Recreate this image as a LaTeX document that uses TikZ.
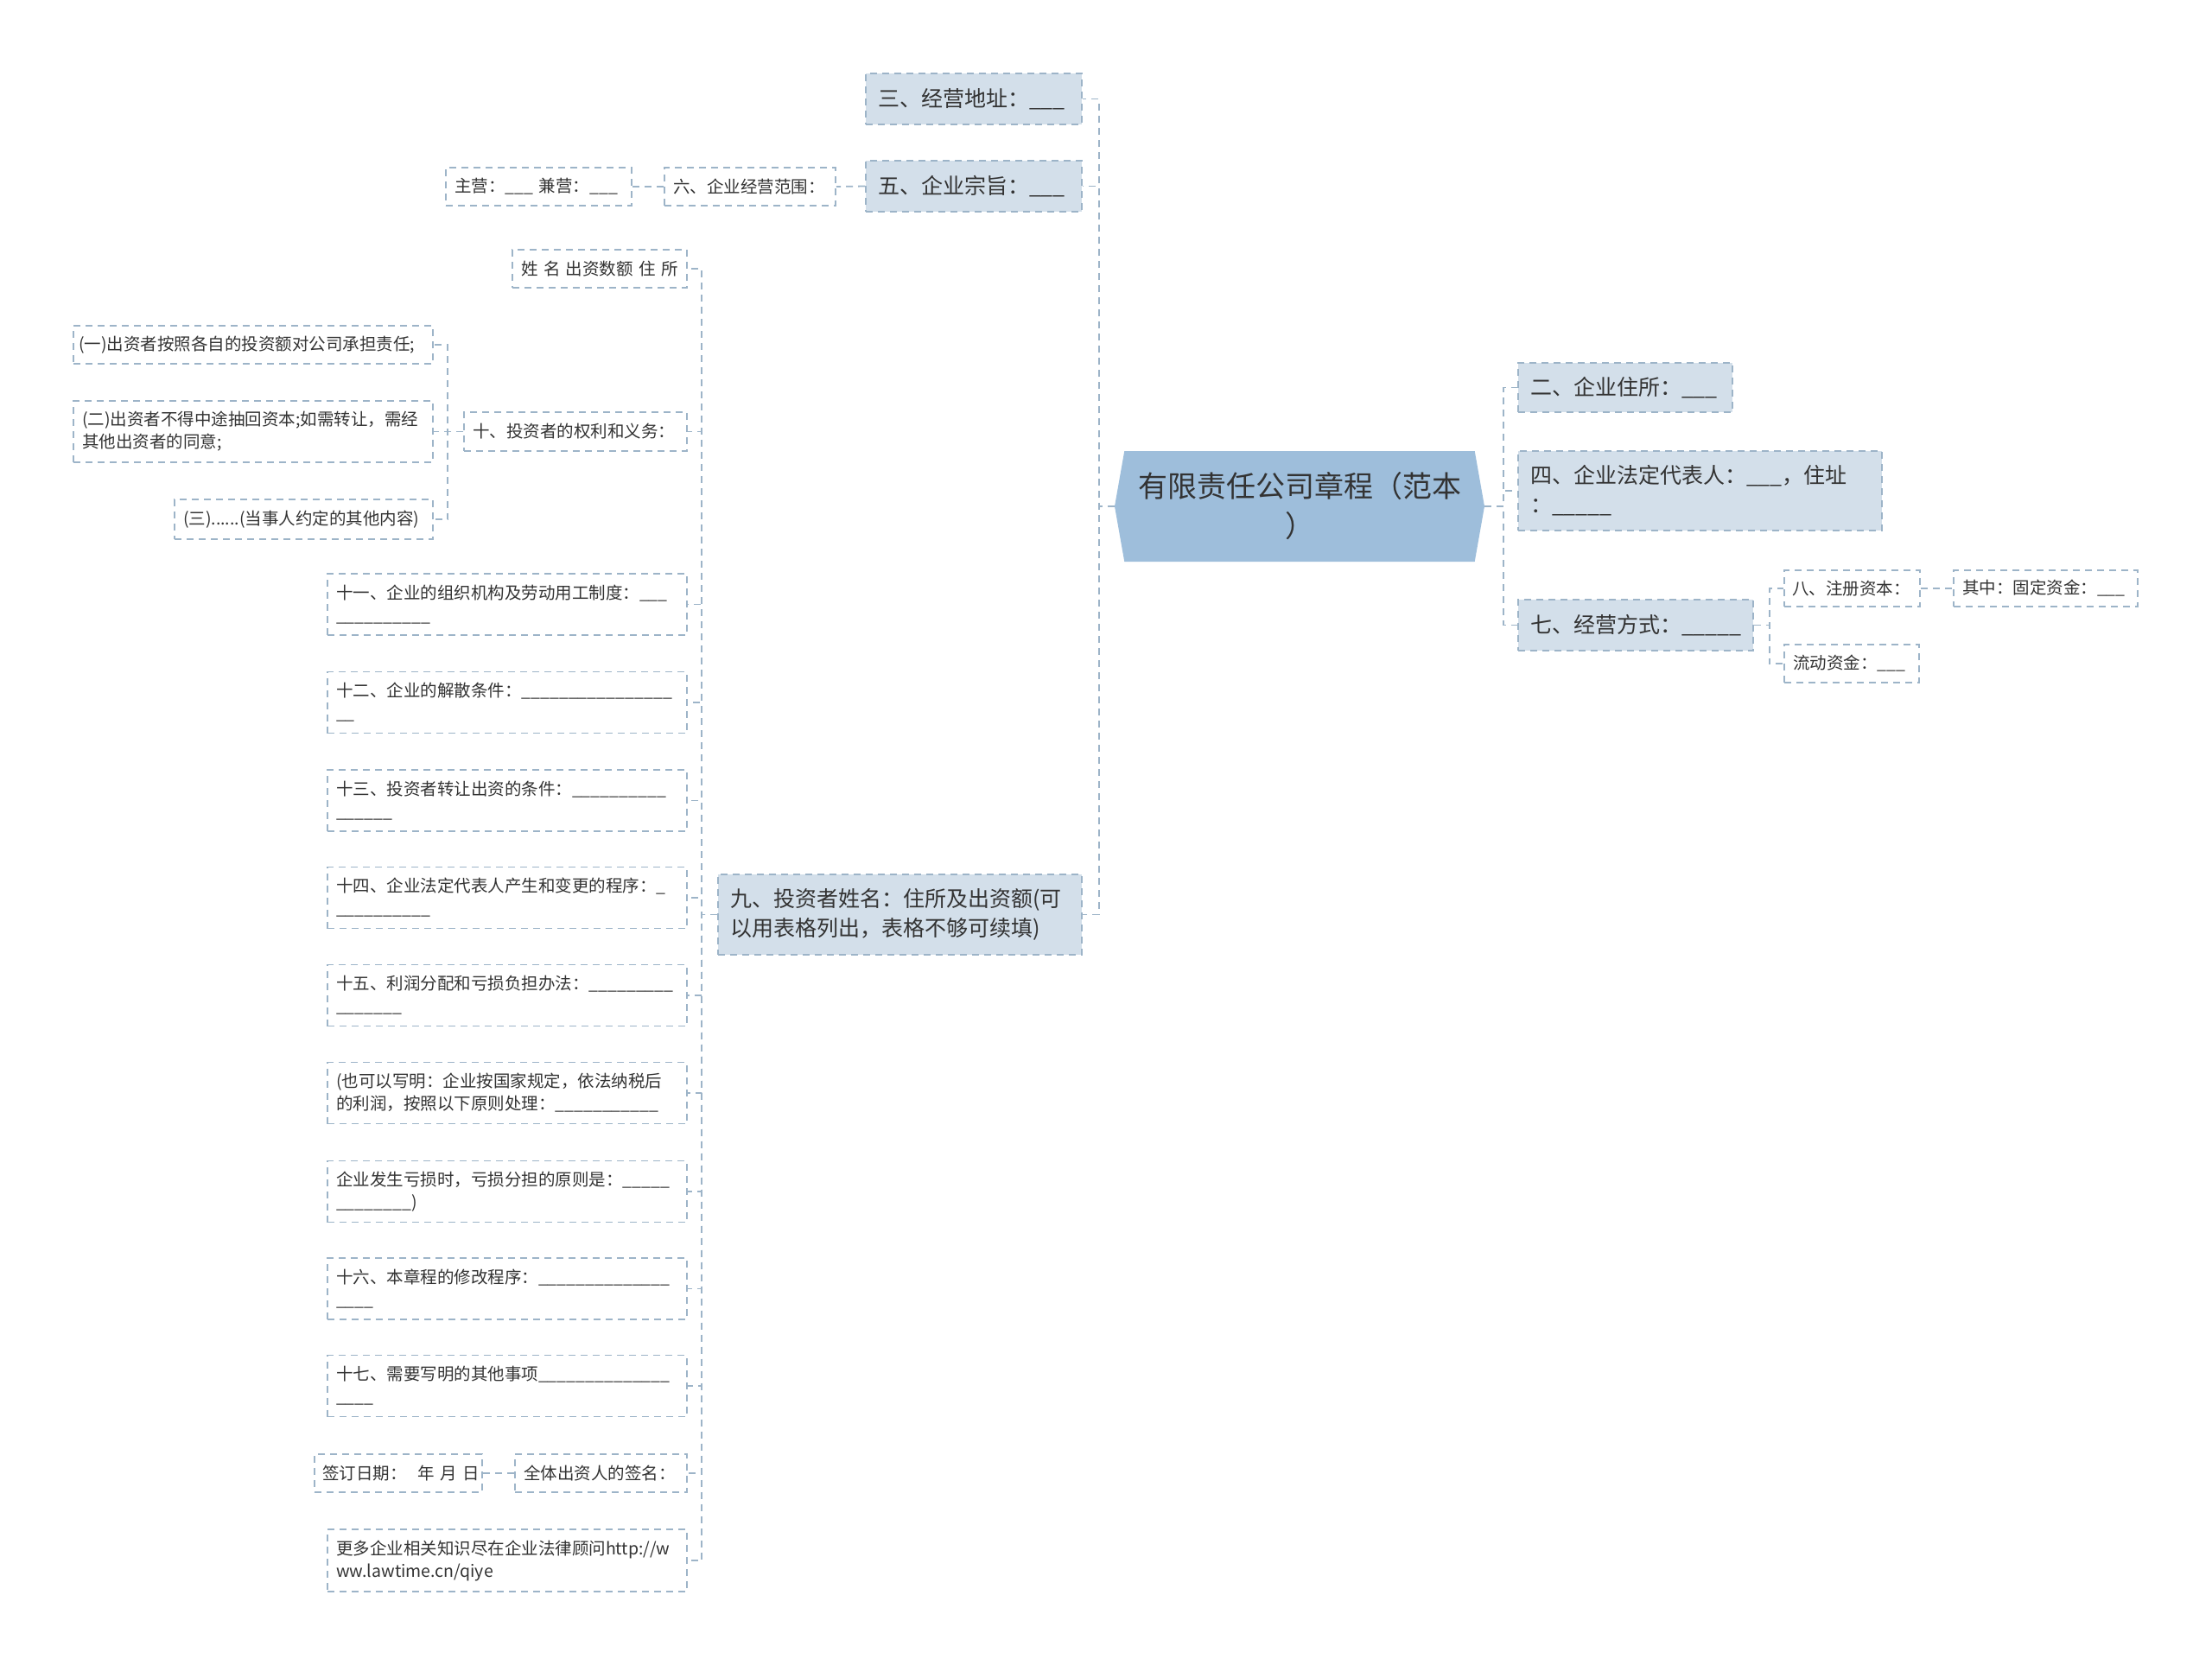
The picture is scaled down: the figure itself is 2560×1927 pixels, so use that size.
\documentclass[tikz,border=0pt]{standalone}
\usepackage{fontspec}
\setmainfont{Noto Sans CJK SC}
\usetikzlibrary{shapes.symbols}
\definecolor{linec}{HTML}{9DB4C8}
\definecolor{fillc}{HTML}{D3DFEA}
\definecolor{rootc}{HTML}{9EBEDB}
\definecolor{txt}{HTML}{333333}
\newcommand\fsm{\fontsize{19.5}{26}\selectfont}
\newcommand\fmd{\fontsize{25}{34}\selectfont}
\newcommand\flg{\fontsize{34}{46}\selectfont}
\tikzset{
  conn/.style={draw=linec, line width=1.8pt, dash pattern=on 8pt off 6pt},
  wbox/.style={draw=linec, line width=1.6pt, dash pattern=on 8pt off 6pt, fill=white, text=txt, font=\fsm, align=left, inner xsep=10pt, inner ysep=0pt, text width=#1, minimum height=44pt},
  fbox/.style={draw=linec, line width=1.6pt, dash pattern=on 8pt off 6pt, fill=fillc, text=txt, font=\fmd, align=left, inner xsep=14pt, inner ysep=0pt, text width=#1, minimum height=59pt},
}
\begin{document}
\begin{tikzpicture}[x=1pt,y=-1pt]
\useasboundingbox (0,0) rectangle (2560,1927);
% root
\node[shape=signal, signal to=west and east, signal pointer angle=160, fill=rootc, draw=none, minimum width=428pt, minimum height=128pt, font=\flg, text=txt, align=center, inner sep=0pt] (root) at (1504,586) {有限责任公司章程（范本\\）};
% right side
\node[fbox=220, minimum height=57pt] (n2) at (1881,448.5) {二、企业住所：\_\_\_};
\node[fbox=393, minimum height=92pt] (n4) at (1967.5,568) {四、企业法定代表人：\_\_\_，住址\\：\_\_\_\_\_};
\node[fbox=244] (n7) at (1893,723.5) {七、经营方式：\_\_\_\_\_};
\node[wbox=139, inner xsep=9pt, minimum height=42pt] (n8) at (2143.5,681) {八、注册资本：};
\node[wbox=193, minimum height=42pt] (n8a) at (2367.5,681) {其中：固定资金：\_\_\_};
\node[wbox=136] (n8b) at (2143,768) {流动资金：\_\_\_};
% left side top
\node[fbox=222] (n3) at (1127,114.5) {三、经营地址：\_\_\_};
\node[fbox=222] (n5) at (1127,215.5) {五、企业宗旨：\_\_\_};
\node[wbox=178] (n6) at (868,216) {六、企业经营范围：};
\node[wbox=195] (n6a) at (623.5,216) {主营：\_\_\_ 兼营：\_\_\_};
\node[fbox=393, minimum height=93pt] (n9) at (1041.5,1058.5) {九、投资者姓名：住所及出资额(可\\以用表格列出，表格不够可续填)};
% children of 9
\node[wbox=182] (a0) at (694,311) {姓 名 出资数额 住 所};
\node[wbox=238, minimum height=45pt] (a1) at (666,499.5) {十、投资者的权利和义务：};
\node[wbox=404, inner xsep=6pt] (b1) at (293,399) {(一)出资者按照各自的投资额对公司承担责任;};
\node[wbox=396, minimum height=71pt] (b2) at (293,499.5) {(二)出资者不得中途抽回资本;如需转让，需经\\其他出资者的同意;};
\node[wbox=279, minimum height=46pt] (b3) at (351.5,601) {(三)......(当事人约定的其他内容)};
\node[wbox=396, minimum height=71pt] (a2) at (587,699.5) {十一、企业的组织机构及劳动用工制度：\_\_\_\\\_\_\_\_\_\_\_\_\_\_};
\node[wbox=396, minimum height=71pt] (a3) at (587,813) {十二、企业的解散条件：\_\_\_\_\_\_\_\_\_\_\_\_\_\_\_\_\\\_\_};
\node[wbox=396, minimum height=71pt] (a4) at (587,926.5) {十三、投资者转让出资的条件：\_\_\_\_\_\_\_\_\_\_\\\_\_\_\_\_\_};
\node[wbox=396, minimum height=71pt] (a5) at (587,1039) {十四、企业法定代表人产生和变更的程序：\_\\\_\_\_\_\_\_\_\_\_\_};
\node[wbox=396, minimum height=71pt] (a6) at (587,1152) {十五、利润分配和亏损负担办法：\_\_\_\_\_\_\_\_\_\\\_\_\_\_\_\_\_};
\node[wbox=396, minimum height=71pt] (a7) at (587,1265) {(也可以写明：企业按国家规定，依法纳税后\\的利润，按照以下原则处理：\_\_\_\_\_\_\_\_\_\_\_};
\node[wbox=396, minimum height=71pt] (a8) at (587,1379) {企业发生亏损时，亏损分担的原则是：\_\_\_\_\_\\\_\_\_\_\_\_\_\_)};
\node[wbox=396, minimum height=71pt] (a9) at (587,1491.5) {十六、本章程的修改程序：\_\_\_\_\_\_\_\_\_\_\_\_\_\_\\\_\_\_\_};
\node[wbox=396, minimum height=71pt] (a10) at (587,1604) {十七、需要写明的其他事项\_\_\_\_\_\_\_\_\_\_\_\_\_\_\\\_\_\_\_};
\node[wbox=179] (a11) at (695.5,1705) {全体出资人的签名：};
\node[wbox=176, inner xsep=9pt] (b4) at (461,1705) {\mbox{签订日期：~~年~月~日}};
\node[wbox=396, minimum height=72pt] (a12) at (587,1806) {更多企业相关知识尽在企业法律顾问http://w\\ww.lawtime.cn/qiye};
% connectors
\foreach \c in {n3,n5,n9} \draw[conn] (root.west) -- ++(-18,0) |- (\c.east);
\foreach \c in {n2,n4,n7} \draw[conn] (root.east) -- ++(22,0) |- (\c.west);
\foreach \c in {n8,n8b} \draw[conn] (n7.east) -- ++(18,0) |- (\c.west);
\draw[conn] (n8.east) -- (n8a.west);
\draw[conn] (n5.west) -- (n6.east);
\draw[conn] (n6.west) -- (n6a.east);
\foreach \c in {a0,a1,a2,a3,a4,a5,a6,a7,a8,a9,a10,a11,a12} \draw[conn] (n9.west) -- ++(-18,0) |- (\c.east);
\foreach \c in {b1,b2,b3} \draw[conn] (a1.west) -- ++(-18,0) |- (\c.east);
\draw[conn] (a11.west) -- (b4.east);
\end{tikzpicture}
\end{document}
